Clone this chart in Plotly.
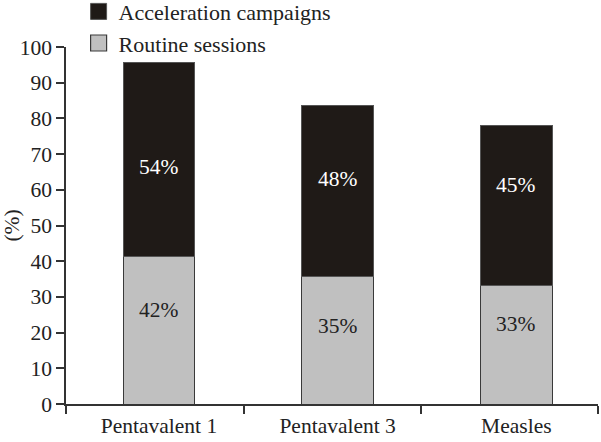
import plotly.graph_objects as go

categories = ["Pentavalent 1", "Pentavalent 3", "Measles"]
routine = [41.3, 35.6, 33.1]
acceleration = [54.4, 48.0, 45.0]
routine_labels = ["42%", "35%", "33%"]
acceleration_labels = ["54%", "48%", "45%"]
y_ticks = [0, 10, 20, 30, 40, 50, 60, 70, 80, 90, 100]

# label placement (fraction of each segment's height) - styling only
routine_label_frac = [0.64, 0.61, 0.68]
acceleration_label_frac = [0.46, 0.57, 0.63]

FONT = "Liberation Serif"
BLACK = "#1f1a17"
GRAY = "#c0c0c0"
x_pos = list(range(len(categories)))
x_range = [-0.52, 2.457]
boundaries = [-0.52, 0.475, 1.466, 2.457]

fig = go.Figure()
fig.add_trace(go.Bar(x=x_pos, y=routine, width=0.4, marker=dict(color=GRAY, line=dict(color="#3a3a3a", width=1)),
                     showlegend=False, hoverinfo="skip"))
fig.add_trace(go.Bar(x=x_pos, y=acceleration, width=0.4, marker=dict(color=BLACK, line=dict(color="#555", width=1)),
                     showlegend=False, hoverinfo="skip"))
# legend entries
fig.add_trace(go.Scatter(x=[None], y=[None], mode="markers", name="Acceleration campaigns",
                         marker=dict(symbol="square", size=18, color=BLACK, line=dict(color="#555", width=1))))
fig.add_trace(go.Scatter(x=[None], y=[None], mode="markers", name="Routine sessions",
                         marker=dict(symbol="square", size=18, color=GRAY, line=dict(color="#3a3a3a", width=1.2))))
# overlay axis for boundary ticks
fig.add_trace(go.Scatter(x=[None], y=[None], xaxis="x2", showlegend=False, hoverinfo="skip"))

for i in range(len(categories)):
    fig.add_annotation(x=x_pos[i], y=routine[i] * routine_label_frac[i], text=routine_labels[i], showarrow=False,
                       font=dict(family=FONT, size=21.5, color="#222"))
    fig.add_annotation(x=x_pos[i], y=routine[i] + acceleration[i] * acceleration_label_frac[i],
                       text=acceleration_labels[i], showarrow=False,
                       font=dict(family=FONT, size=21.5, color="white"))

fig.update_layout(
    width=601, height=442,
    margin=dict(l=66, r=3, t=47, b=38, autoexpand=False),
    barmode="stack",
    plot_bgcolor="white", paper_bgcolor="white",
    font=dict(family=FONT, size=21.5, color="#222"),
    xaxis=dict(range=x_range, tickvals=x_pos, ticktext=categories, showline=False, showgrid=False,
               zeroline=False, ticks="outside", ticklen=2, tickcolor="rgba(0,0,0,0)", tickangle=0,
               automargin=False, tickfont=dict(family=FONT, size=21.5, color="#222")),
    xaxis2=dict(range=x_range, overlaying="x", anchor="y", side="bottom", tickvals=boundaries,
                showticklabels=False, ticks="outside", ticklen=8, tickwidth=1.5, tickcolor="#333",
                automargin=False,
                showline=True, linecolor="#333", linewidth=1.5, showgrid=False, zeroline=False),
    yaxis=dict(range=[0, 100], tickvals=y_ticks, showline=True, linecolor="#333", linewidth=1.5,
               ticks="outside", ticklen=8, tickwidth=1.5, tickcolor="#333", showgrid=False, zeroline=False,
               automargin=False, tickfont=dict(family=FONT, size=21.5, color="#222"),
               title=dict(text="(%)", font=dict(family=FONT, size=21.5, color="#222"), standoff=4)),
    legend=dict(x=0.0237, y=1.158, xanchor="left", yanchor="top", traceorder="normal",
                font=dict(family=FONT, size=22, color="#222"), bgcolor="rgba(0,0,0,0)",
                tracegroupgap=0, itemsizing="trace"),
)

fig.write_html("out.html", config={"displayModeBar": False},
               post_script="document.body.style.margin='0px';")
